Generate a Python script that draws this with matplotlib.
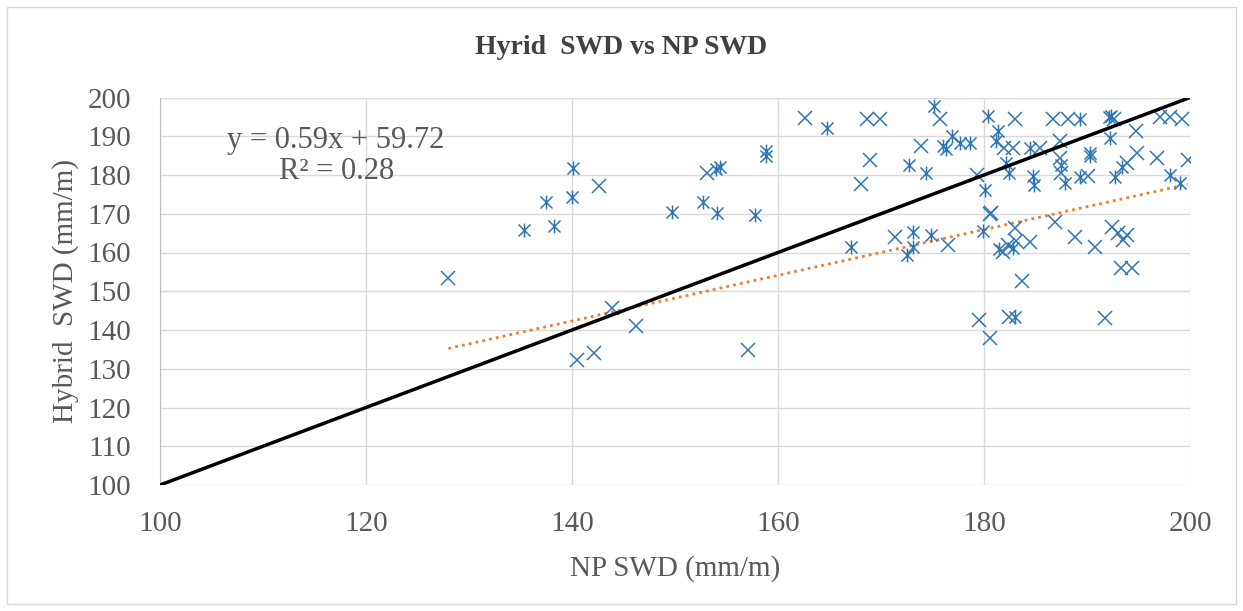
import matplotlib
matplotlib.use("Agg")
import matplotlib.pyplot as plt
from matplotlib.path import Path
from matplotlib.patches import Rectangle

# points drawn with an "x" marker (NP SWD, Hybrid SWD)
x_np = [128.0, 142.6, 143.9, 146.2, 140.5, 142.1, 153.1, 157.1,
        162.6, 168.6, 169.9, 175.7, 173.9, 168.9, 168.1, 171.4, 176.5,
        179.3, 180.6, 183.0, 181.9, 182.8, 185.4, 186.7, 188.2, 187.4,
        187.4, 192.6, 194.8, 197.1, 198.1, 199.2, 196.8, 199.8, 194.9,
        193.9, 190.1, 187.5, 180.7, 183.0, 184.5, 186.9, 188.8, 190.8,
        192.4, 193.0, 193.5, 193.9, 193.3, 194.4, 183.7, 179.5, 180.6,
        182.4, 191.7, 181.8, 182.3, 183.1]
x_hyb = [153.5, 177.2, 145.6, 141.0, 132.3, 134.0, 180.4, 134.8,
         194.7, 194.5, 194.5, 194.5, 187.4, 183.9, 177.8, 163.9, 161.9,
         180.0, 170.0, 194.5, 187.0, 187.0, 187.0, 194.5, 194.5, 188.7,
         184.4, 194.5, 191.3, 194.9, 194.9, 194.5, 184.4, 183.8, 185.8,
         183.1, 179.8, 180.4, 170.1, 166.2, 162.8, 168.0, 163.9, 161.5,
         166.7, 165.0, 163.3, 164.6, 156.0, 156.0, 152.7, 142.6, 137.9,
         143.4, 143.0, 160.2, 162.0, 163.0]

# points drawn with the asterisk marker
s_np = [140.1, 137.5, 140.0, 135.3, 138.3, 154.0, 154.4, 149.7, 152.7,
        154.1, 157.8, 158.8, 158.8, 164.8, 175.1, 176.9, 176.0, 176.3,
        177.7, 178.6, 172.7, 174.4, 167.1, 173.1, 173.1, 172.5, 174.9,
        179.9, 180.1, 180.4, 181.4, 181.2, 184.5, 182.1, 182.4, 184.8,
        184.9, 187.5, 187.9, 189.3, 189.3, 190.3, 190.3, 192.1, 192.3,
        192.2, 192.7, 193.4, 198.1, 199.0, 181.5, 182.8, 183.0]
s_hyb = [181.7, 173.1, 174.2, 165.8, 166.8, 181.5, 182.0, 170.5, 173.1,
         170.3, 169.7, 186.2, 185.0, 192.1, 197.7, 190.0, 187.5, 186.8,
         188.3, 188.3, 182.6, 180.4, 161.5, 165.4, 161.5, 159.4, 164.5,
         165.6, 176.1, 195.1, 191.3, 188.7, 187.0, 183.0, 180.4, 179.8,
         177.4, 182.6, 177.9, 179.6, 194.5, 185.6, 185.0, 194.9, 195.2,
         189.5, 179.6, 182.0, 180.0, 177.9, 161.0, 161.2, 143.4]

one_to_one = [100, 200]
trend_slope = 0.59
trend_intercept = 59.72
trend_r2 = 0.28

blue = "#2F75B5"
grey_txt = "#595959"
plt.rcParams["font.family"] = ["Liberation Serif", "DejaVu Serif"]

fig = plt.figure(figsize=(12.43, 6.11), dpi=100)
fig.patches.append(Rectangle((7 / 1243, 7 / 611), 1229 / 1243, 597 / 611,
                             transform=fig.transFigure, fill=False,
                             edgecolor="#D9D9D9", linewidth=1))
ax = fig.add_axes([160 / 1243, 1 - 485 / 611, 1030 / 1243, 387.5 / 611])

# excel-like star: an x with a vertical bar through it
star = Path([(-1, -1), (1, 1), (-1, 1), (1, -1), (0, -1.15), (0, 1.15)],
            [Path.MOVETO, Path.LINETO, Path.MOVETO, Path.LINETO,
             Path.MOVETO, Path.LINETO])

ax.plot(x_np, x_hyb, linestyle="none", marker="x", markersize=10,
        markeredgewidth=1.1, color=blue, zorder=3)
ax.plot(s_np, s_hyb, linestyle="none", marker=star, markersize=10,
        markeredgewidth=1.1, markerfacecolor="none", color=blue, zorder=3)

ax.plot(one_to_one, one_to_one, color="black", linewidth=2.5, zorder=4)

all_x = x_np + s_np
tx = [min(all_x), max(all_x)]
ty = [trend_slope * v + trend_intercept for v in tx]
ax.plot(tx, ty, color="#ED7D31", linewidth=2, linestyle=(0, (1, 1.5)),
        zorder=2)

ax.text(117.1, 185, f"y = {trend_slope:.2f}x + {trend_intercept:.2f}\nR² = {trend_r2:.2f}",
        ha="center", va="center", multialignment="center", fontsize=22,
        color=grey_txt, linespacing=1.1, zorder=5)

ax.set_xlim(100, 200)
ax.set_ylim(100, 200)
ax.set_xticks(range(100, 201, 20))
ax.set_yticks(range(100, 201, 10))
ax.grid(True, color="#D9D9D9", linewidth=1)
ax.set_axisbelow(True)
for s in ["top", "right", "bottom"]:
    ax.spines[s].set_visible(False)
ax.spines["left"].set_color("#BFBFBF")
ax.tick_params(length=0, labelsize=21, labelcolor=grey_txt)
ax.tick_params(axis="y", pad=21)
ax.tick_params(axis="x", pad=19)

ax.set_xlabel("NP SWD (mm/m)", fontsize=21, color=grey_txt, labelpad=13)
ax.set_ylabel("Hybrid  SWD (mm/m)", fontsize=21, color=grey_txt, labelpad=6)
fig.text(0.5, 1 - 47 / 611, "Hyrid  SWD vs NP SWD", ha="center", va="center",
         fontsize=20, fontweight="bold", color="#404040")

fig.savefig("out.png", dpi=100)
